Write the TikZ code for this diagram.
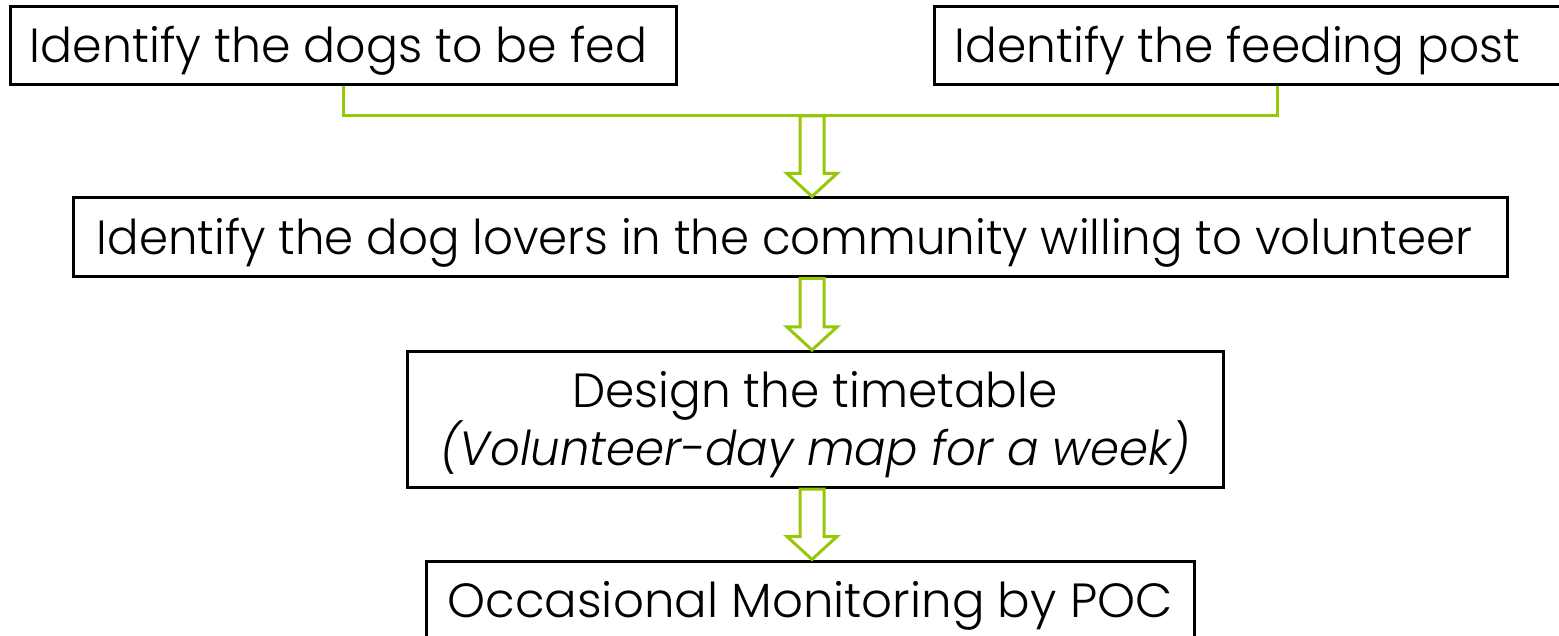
\documentclass[tikz,border=0pt]{standalone}
\usepackage{fontspec}
\setmainfont{Poppins}[UprightFont=* Light, ItalicFont=* Light Italic]
\usetikzlibrary{calc}
\definecolor{lgreen}{RGB}{150,200,10}
\tikzset{
  box/.style={draw=black, line width=3pt, fill=white, inner xsep=0pt, inner ysep=0pt,
    font=\fontsize{48}{58}\selectfont},
  conn/.style={draw=lgreen, line width=3pt},
  barrow/.style={draw=lgreen, line width=3pt, fill=white, line join=miter},
}
\newcommand\txt[2]{\rule[-22pt]{0pt}{78pt}\smash{\resizebox{#1}{\height}{#2}}}
\newcommand\blockarr[2]{%
  \draw[barrow] ($(#1)+(-12,0)$) -- ($(#2)+(-12,-23)$) -- ($(#2)+(-25,-23)$) -- (#2)
    -- ($(#2)+(25,-23)$) -- ($(#2)+(12,-23)$) -- ($(#1)+(12,0)$) -- cycle;}
\begin{document}
\begin{tikzpicture}[x=1pt,y=-1pt]
\useasboundingbox (0,0) rectangle (1559,636);
\clip (0,0) rectangle (1559,636);
\node[box, minimum width=666pt, minimum height=78pt] (b1) at (343,46)
  {\txt{617pt}{Identify the dogs to be fed}\kern9pt};
\node[box, minimum width=687pt, minimum height=78pt] (b2) at (1277.5,46)
  {\txt{565pt}{Identify the feeding post}\kern80pt};
\node[box, minimum width=1434pt, minimum height=79pt] (b3) at (790,237.5)
  {\txt{1375pt}{Identify the dog lovers in the community willing to volunteer}\kern11pt};
\node[box, minimum width=816pt, minimum height=135pt, align=center] (b4) at (815,419.5)
  {\rule{0pt}{56pt}\smash{\resizebox{485pt}{\height}{Design the timetable}}\\
   \rule[-22pt]{0pt}{0pt}\smash{\resizebox{750pt}{\height}{\itshape (Volunteer-day map for a week)}}};
\node[box, minimum width=768pt, minimum height=78pt] (b5) at (810,600)
  {\txt{725pt}{Occasional Monitoring by POC}};
\coordinate (j) at (812,116);
\draw[conn] (b1.south) |- (j) -| (b2.south);
\coordinate (t1) at (j |- b3.north);
\coordinate (s2) at (j |- b3.south);
\coordinate (t2) at (j |- b4.north);
\coordinate (s3) at (j |- b4.south);
\coordinate (t3) at (j |- b5.north);
\blockarr{j}{t1}
\blockarr{s2}{t2}
\blockarr{s3}{t3}
\end{tikzpicture}
\end{document}
